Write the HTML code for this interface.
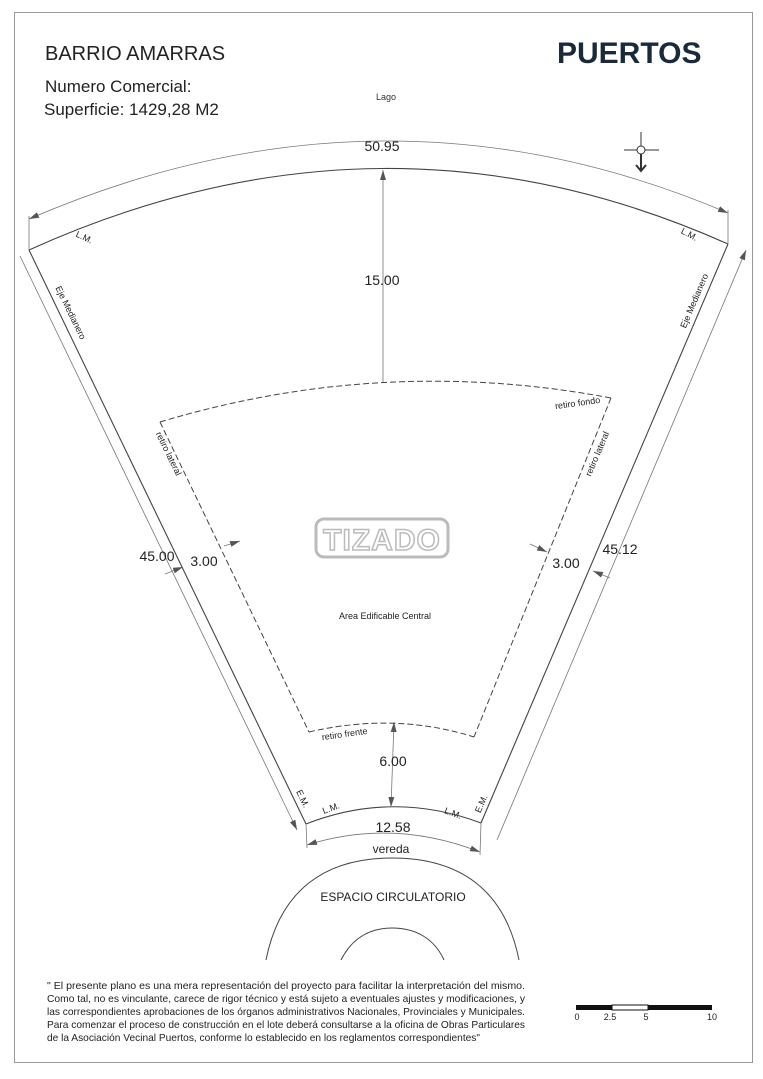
<!DOCTYPE html>
<html><head><meta charset="utf-8"><style>
html,body{margin:0;padding:0;background:#fff;}
svg{display:block;font-family:"Liberation Sans",sans-serif;}
</style></head><body>
<svg width="763" height="1079" viewBox="0 0 763 1079" xmlns="http://www.w3.org/2000/svg">
<defs>
<marker id="a" viewBox="0 0 10 6" refX="10" refY="3" markerWidth="10" markerHeight="6" orient="auto-start-reverse" markerUnits="userSpaceOnUse"><path d="M0,0 L10,3 L0,6 z" fill="#555"/></marker>
</defs>
<rect x="14.5" y="12.5" width="738" height="1050" fill="#fff" stroke="#999" stroke-width="1"/>
<text x="45" y="60" font-size="20" fill="#222">BARRIO AMARRAS</text>
<text x="45" y="92" font-size="17" fill="#222">Numero Comercial:</text>
<text x="44" y="115" font-size="17" fill="#222">Superficie: 1429,28 M2</text>
<text x="557" y="63" font-size="30" font-weight="bold" fill="#1b2a38">PUERTOS</text>
<text x="386" y="100" font-size="9" text-anchor="middle" fill="#333">Lago</text>
<g stroke="#333" stroke-width="1" fill="none">
<circle cx="641" cy="150" r="4"/>
<line x1="641" y1="132" x2="641" y2="146"/><line x1="624" y1="150" x2="637" y2="150"/><line x1="645" y1="150" x2="659" y2="150"/>
<line x1="641" y1="154" x2="641" y2="170" stroke-width="2"/><path d="M636,165 L641,171 L646,165" stroke-width="2"/>
</g>
<g fill="none" stroke="#444" stroke-width="1.1">
<path d="M29,250 Q383,90 728,244"/>
<path d="M29,250 L306,824"/>
<path d="M728,244 L481,823"/>
<path d="M306,824 Q393,790 481,823"/>
</g>
<g fill="none" stroke="#777" stroke-width="0.8">
<path d="M29,219 Q383,66 728,213" marker-start="url(#a)" marker-end="url(#a)"/>
<line x1="29" y1="216" x2="29" y2="250"/><line x1="728" y1="210" x2="728" y2="244"/>
<line x1="383" y1="170" x2="383" y2="382" marker-start="url(#a)"/>
<line x1="20" y1="256" x2="297" y2="830" marker-end="url(#a)"/>
<line x1="746" y1="250" x2="497" y2="840" marker-start="url(#a)"/>
<line x1="394" y1="722" x2="391" y2="807" marker-start="url(#a)" marker-end="url(#a)"/>
<path d="M307,845 Q393,818 480,852" marker-start="url(#a)" marker-end="url(#a)"/>
<line x1="306" y1="824" x2="307" y2="848"/><line x1="481" y1="823" x2="480" y2="855"/>
<line x1="224" y1="546" x2="240" y2="541" marker-end="url(#a)"/>
<line x1="165" y1="574" x2="183" y2="567" marker-end="url(#a)"/>
<line x1="530" y1="544" x2="547" y2="552" marker-end="url(#a)"/>
<line x1="610" y1="578" x2="593" y2="571" marker-end="url(#a)"/>
</g>
<g fill="none" stroke="#444" stroke-width="1" stroke-dasharray="6,3">
<path d="M160,422 Q383,355 611,398"/>
<path d="M160,422 L309,732"/>
<path d="M611,398 L474,737"/>
<path d="M309,732 Q395,712 474,737"/>
</g>
<g fill="none" stroke="#444" stroke-width="1">
<path d="M266,960 C280,890 325,858 392,858 C460,858 505,890 519,960"/>
<path d="M341,960 C352,938 370,928 392,928 C415,928 434,938 444,960"/>
</g>
<g>
<rect x="316" y="519" width="132" height="38" rx="8" fill="none" stroke="#bbb" stroke-width="3"/>
<text x="382" y="550" font-size="30" font-weight="bold" text-anchor="middle" fill="none" stroke="#bbb" stroke-width="1.5" letter-spacing="1">TIZADO</text>
</g>
<g fill="#222">
<text x="382" y="151" font-size="14" text-anchor="middle">50.95</text>
<text x="382" y="285" font-size="14" text-anchor="middle">15.00</text>
<text x="157" y="561" font-size="14" text-anchor="middle">45.00</text>
<text x="204" y="566" font-size="14" text-anchor="middle">3.00</text>
<text x="566" y="568" font-size="14" text-anchor="middle">3.00</text>
<text x="620" y="554" font-size="14" text-anchor="middle">45.12</text>
<text x="393" y="766" font-size="14" text-anchor="middle">6.00</text>
<text x="393" y="832" font-size="14" text-anchor="middle">12.58</text>
<text x="391" y="853" font-size="12" text-anchor="middle">vereda</text>
<text x="393" y="901" font-size="12" text-anchor="middle">ESPACIO CIRCULATORIO</text>
<text x="385" y="619" font-size="9" text-anchor="middle">Area Edificable Central</text>
<g font-size="9" text-anchor="middle">
<text transform="translate(68,314) rotate(64)">Eje Medianero</text>
<text transform="translate(697,302) rotate(-67)">Eje Medianero</text>
<text transform="translate(83,240) rotate(25)">L.M.</text>
<text transform="translate(688,237) rotate(28)">L.M.</text>
<text transform="translate(578,406) rotate(-8)">retiro fondo</text>
<text transform="translate(166,455) rotate(64)">retiro lateral</text>
<text transform="translate(600,455) rotate(-67)">retiro lateral</text>
<text transform="translate(345,737) rotate(-8)">retiro frente</text>
<text transform="translate(300,800) rotate(64)">E.M.</text>
<text transform="translate(484,805) rotate(-66)">E.M.</text>
<text transform="translate(332,811) rotate(-20)">L.M.</text>
<text transform="translate(452,816) rotate(20)">L.M.</text>
</g>
</g>
<g font-size="10.3" fill="#222">
<text x="47" y="989" textLength="478" lengthAdjust="spacingAndGlyphs">" El presente plano es una mera representación del proyecto para facilitar la interpretación del mismo.</text>
<text x="47" y="1002" textLength="478" lengthAdjust="spacingAndGlyphs">Como tal, no es vinculante, carece de rigor técnico y está sujeto a eventuales ajustes y modificaciones, y</text>
<text x="47" y="1015" textLength="478" lengthAdjust="spacingAndGlyphs">las correspondientes aprobaciones de los órganos administrativos Nacionales, Provinciales y Municipales.</text>
<text x="47" y="1028" textLength="478" lengthAdjust="spacingAndGlyphs">Para comenzar el proceso de construcción en el lote deberá consultarse a la oficina de Obras Particulares</text>
<text x="47" y="1041" textLength="433" lengthAdjust="spacingAndGlyphs">de la Asociación Vecinal Puertos, conforme lo establecido en los reglamentos correspondientes"</text>
</g>
<g>
<rect x="576" y="1005" width="36" height="5" fill="#111"/>
<rect x="612" y="1005" width="36" height="5" fill="#fff" stroke="#111" stroke-width="1"/>
<rect x="648" y="1005" width="64" height="5" fill="#111"/>
<g font-size="9" fill="#222" text-anchor="middle">
<text x="577" y="1020">0</text><text x="610" y="1020">2.5</text><text x="646" y="1020">5</text><text x="712" y="1020">10</text>
</g>
</g>
</svg>
</body></html>
